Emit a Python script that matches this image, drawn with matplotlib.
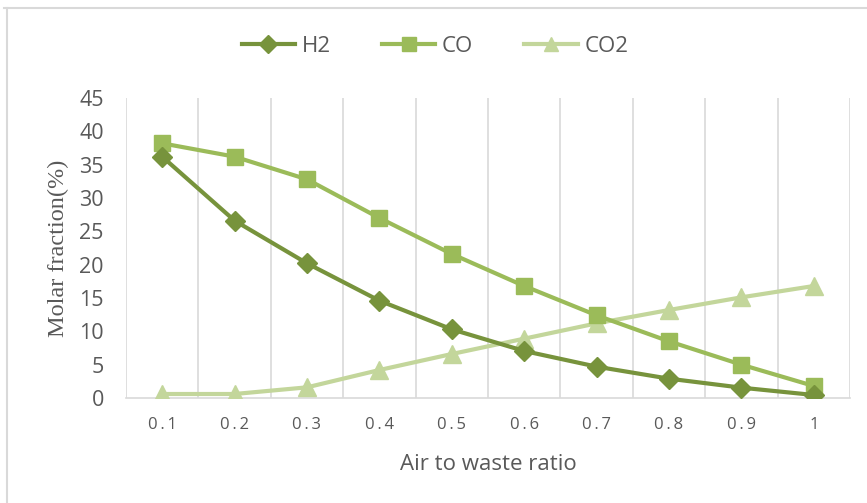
import matplotlib
matplotlib.use("Agg")
import matplotlib.pyplot as plt
from matplotlib.lines import Line2D
import numpy as np

ratios = ["0.1", "0.2", "0.3", "0.4", "0.5", "0.6", "0.7", "0.8", "0.9", "1"]
h2 = [36.2, 26.6, 20.2, 14.6, 10.3, 7.05, 4.7, 2.9, 1.55, 0.45]
co = [38.2, 36.2, 32.8, 27.0, 21.6, 16.8, 12.4, 8.5, 5.0, 1.8]
co2 = [0.6, 0.6, 1.6, 4.2, 6.6, 8.9, 11.2, 13.2, 15.1, 16.8]
y_ticks = [0, 5, 10, 15, 20, 25, 30, 35, 40, 45]

c_h2 = "#77933C"
c_co = "#9BBB59"
c_co2 = "#C3D69B"
text_c = "#595959"
grid_c = "#D9D9D9"
sans = ["Open Sans", "DejaVu Sans"]

W, H = 867, 503
fig = plt.figure(figsize=(W / 100, H / 100), dpi=100)
ax = fig.add_axes([126 / W, 1 - 398 / H, (850 - 126) / W, 300 / H])

x = np.arange(len(ratios))
ax.plot(x, co2, color=c_co2, lw=3, marker="^", ms=13, zorder=3, label="CO2")
ax.plot(x, co, color=c_co, lw=3, marker="s", ms=12, zorder=4, label="CO")
ax.plot(x, h2, color=c_h2, lw=3, marker="D", ms=10, zorder=5, label="H2")

ax.set_xlim(-0.5, len(ratios) - 0.5)
ax.set_ylim(0, 45)
ax.set_xticks(x)
# letter-spaced category labels
ax.set_xticklabels(["\u2009".join(r) for r in ratios], fontfamily=sans, fontsize=12, color=text_c)
ax.set_yticks(y_ticks)
ax.set_yticklabels([str(v) for v in y_ticks], fontfamily=sans, fontsize=15.5, color=text_c)
ax.set_xticks(np.arange(-0.5, len(ratios)), minor=True)
ax.grid(axis="x", which="minor", color=grid_c, lw=1.2)
ax.tick_params(axis="both", which="both", length=0)
ax.tick_params(axis="x", pad=14)
ax.tick_params(axis="y", pad=16)
for s in ["top", "right", "left"]:
    ax.spines[s].set_visible(False)
ax.spines["bottom"].set_color(grid_c)
ax.spines["bottom"].set_linewidth(1.2)

ax.set_xlabel("Air to waste ratio", fontfamily=sans, fontsize=16, color=text_c)
ax.xaxis.set_label_coords(0.5, (398 - 464) / 300)
ax.xaxis.label.set_va("center")
ax.set_ylabel("Molar fraction(%)", fontfamily="Liberation Serif", fontsize=17.5, color=text_c)
ax.yaxis.set_label_coords((58 - 126) / 724, 0.5)
ax.yaxis.label.set_va("center")

handles = [
    Line2D([], [], color=c_h2, lw=3, marker="D", ms=9),
    Line2D([], [], color=c_co, lw=3, marker="s", ms=10),
    Line2D([], [], color=c_co2, lw=3, marker="^", ms=10),
]
leg = fig.legend(handles, ["H2", "CO", "CO2"], loc="center", bbox_to_anchor=(435 / W, 1 - 46 / H),
                 ncol=3, frameon=False, handlelength=2.4, columnspacing=2.3, handletextpad=0.3,
                 prop={"family": sans, "size": 16})
for t in leg.get_texts():
    t.set_color(text_c)

# thin frame lines along the top and left of the figure
fig.add_artist(Line2D([4 / W, 1], [1 - 7.5 / H] * 2, transform=fig.transFigure, color="#D9D9D9", lw=1.5))
fig.add_artist(Line2D([6.5 / W] * 2, [0, 1 - 7.5 / H], transform=fig.transFigure, color="#D9D9D9", lw=1.5))

fig.savefig("out.png", dpi=100)
